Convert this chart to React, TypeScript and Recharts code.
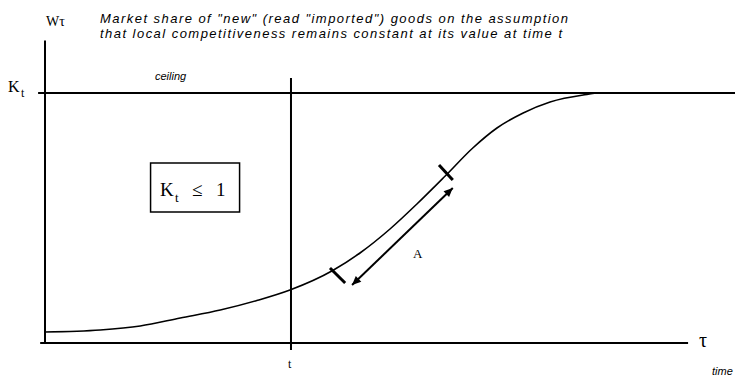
import { ComposedChart, Line, XAxis, YAxis, ReferenceLine, ReferenceArea, Customized } from 'recharts';

// time axis (tau) and market share W_tau
const tau = [0, 8, 13.8, 19.6, 25.4, 30.7, 35.5, 41.7, 45.65, 50, 53.9, 58, 62, 65.5, 69.3, 73.2, 78, 80.4, 100];
const share = [0.044, 0.052, 0.068, 0.1, 0.132, 0.17, 0.212, 0.29, 0.36, 0.456, 0.556, 0.668, 0.78, 0.86, 0.92, 0.964, 0.992, 1, 1];

const ceilingK = 1;
const tNow = 35.65;
const tickLow = [{ x: 41.3, y: 0.3 }, { x: 43.5, y: 0.24 }];
const tickHigh = [{ x: 57.1, y: 0.712 }, { x: 59.1, y: 0.652 }];
const arrowA = [{ x: 44.5, y: 0.232 }, { x: 59.1, y: 0.62 }];
const boxX = [15.3, 28.2];
const boxY = [0.524, 0.72];

const data = tau.map((t, i) => ({ tau: t, w: share[i] }));

const serif = '"Liberation Serif", "DejaVu Serif", serif';
const italic = '"Liberation Sans", "Open Sans", sans-serif';

const head = (x: number, y: number, ang: number) => {
  const len = 9;
  const hw = 4;
  const bx = x - len * Math.cos(ang);
  const by = y - len * Math.sin(ang);
  const px = -Math.sin(ang) * hw;
  const py = Math.cos(ang) * hw;
  return `${x},${y} ${bx + px},${by + py} ${bx - px},${by - py}`;
};

const DoubleArrow = (p: any) => {
  const { x1, y1, x2, y2 } = p;
  const ang = Math.atan2(y2 - y1, x2 - x1);
  return (
    <g>
      <line x1={x1} y1={y1} x2={x2} y2={y2} stroke="#000" strokeWidth={2} />
      <polygon points={head(x2, y2, ang)} fill="#000" />
      <polygon points={head(x1, y1, ang + Math.PI)} fill="#000" />
    </g>
  );
};

const Texts = () => (
  <g>
    <text x={100} y={23} fontFamily={italic} fontStyle="italic" fontSize={13} textLength={468} lengthAdjust="spacing" fill="#000">
      Market share of "new" (read "imported")  goods on the assumption
    </text>
    <text x={100} y={38} fontFamily={italic} fontStyle="italic" fontSize={13} textLength={462} lengthAdjust="spacing" fill="#000">
      that local competitiveness remains constant at its value at time  t
    </text>
    <text x={46} y={26} fontFamily={serif} fontSize={14} fill="#000">Wτ</text>
    <text x={8} y={92} fontFamily={serif} fontSize={16} fill="#000">K</text>
    <text x={21} y={97} fontFamily={serif} fontSize={12} fill="#000">t</text>
    <text x={155} y={80} fontFamily={italic} fontStyle="italic" fontSize={11} fill="#000">ceiling</text>
    <text x={160} y={196} fontFamily={serif} fontSize={19} fill="#000">K</text>
    <text x={175} y={202} fontFamily={serif} fontSize={13} fill="#000">t</text>
    <text x={192} y={196} fontFamily={serif} fontSize={19} fill="#000">≤</text>
    <text x={216} y={196} fontFamily={serif} fontSize={19} fill="#000">1</text>
    <text x={413} y={258} fontFamily={serif} fontSize={13} fill="#000">A</text>
    <text x={699} y={347} fontFamily={serif} fontSize={20} fill="#000">τ</text>
    <text x={712} y={375} fontFamily={italic} fontStyle="italic" fontSize={11} fill="#000">time</text>
    <text x={288} y={368} fontFamily={serif} fontSize={12} fill="#000">t</text>
  </g>
);

export default function App() {
  return (
    <div style={{ position: 'absolute', left: 0, top: 0, background: '#fff' }}>
      <ComposedChart width={735} height={377} data={data} margin={{ top: 43, right: 0, bottom: 34, left: 45 }}>
        <XAxis dataKey="tau" type="number" domain={[0, 100]} hide />
        <YAxis type="number" domain={[0, 1.2]} hide />
        {/* axes */}
        <ReferenceLine segment={[{ x: -0.7, y: 0 }, { x: 93.2, y: 0 }]} stroke="#000" strokeWidth={2} ifOverflow="visible" />
        <ReferenceLine segment={[{ x: 0, y: 0 }, { x: 0, y: 1.21 }]} stroke="#000" strokeWidth={2} ifOverflow="visible" />
        {/* ceiling and time t */}
        <ReferenceLine segment={[{ x: -1, y: ceilingK }, { x: 100, y: ceilingK }]} stroke="#000" strokeWidth={2} ifOverflow="visible" />
        <ReferenceLine segment={[{ x: tNow, y: -0.028 }, { x: tNow, y: 1.06 }]} stroke="#000" strokeWidth={2} ifOverflow="visible" />
        <ReferenceArea x1={boxX[0]} x2={boxX[1]} y1={boxY[0]} y2={boxY[1]} fill="none" stroke="#000" strokeWidth={1.5} />
        <Line dataKey="w" type="monotone" dot={false} stroke="#000" strokeWidth={1.6} isAnimationActive={false} />
        <ReferenceLine segment={tickLow} stroke="#000" strokeWidth={3} ifOverflow="visible" />
        <ReferenceLine segment={tickHigh} stroke="#000" strokeWidth={3} ifOverflow="visible" />
        <ReferenceLine segment={arrowA} ifOverflow="visible" shape={(p: any) => <DoubleArrow {...p} />} />
        <Customized component={<Texts />} />
      </ComposedChart>
    </div>
  );
}
